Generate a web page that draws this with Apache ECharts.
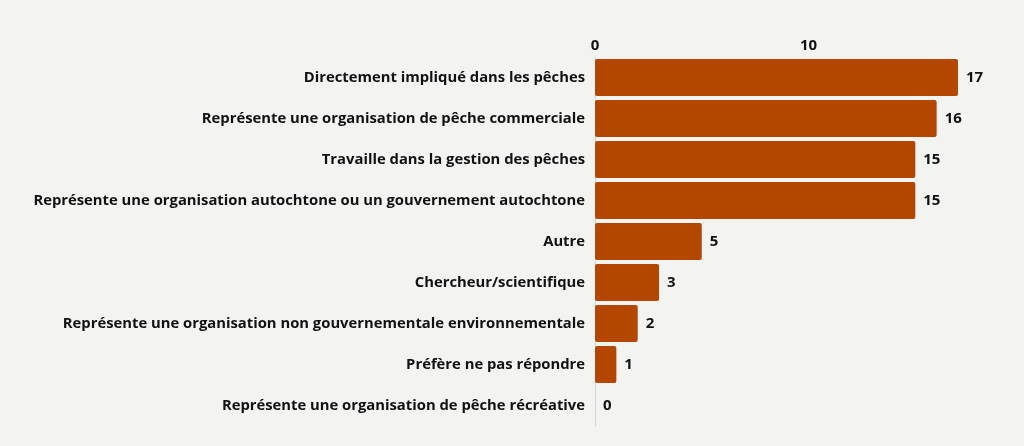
<!DOCTYPE html>
<html>
<head>
<meta charset="utf-8">
<script src="https://cdn.jsdelivr.net/npm/echarts@6/dist/echarts.min.js"></script>
<style>
  html, body { margin: 0; padding: 0; background: #f3f3f2; }
  #chart { width: 1024px; height: 446px; }
</style>
</head>
<body>
<div id="chart"></div>
<script>
// categories from top to bottom
const categories = [
  "Directement impliqué dans les pêches",
  "Représente une organisation de pêche commerciale",
  "Travaille dans la gestion des pêches",
  "Représente une organisation autochtone ou un gouvernement autochtone",
  "Autre",
  "Chercheur/scientifique",
  "Représente une organisation non gouvernementale environnementale",
  "Préfère ne pas répondre",
  "Représente une organisation de pêche récréative"
];
const counts = [17, 16, 15, 15, 5, 3, 2, 1, 0];
const tickValues = [0, 10];

const font = 'Open Sans';

const chart = echarts.init(document.getElementById('chart'));
chart.setOption({
  backgroundColor: '#f3f3f2',
  animation: false,
  grid: { left: 595, right: 66, top: 57, bottom: 20, containLabel: false },
  xAxis: {
    type: 'value',
    position: 'top',
    min: 0,
    max: 17,
    interval: 10,
    axisLine: { show: false },
    axisTick: { show: false },
    splitLine: { show: false },
    axisLabel: {
      margin: 4,
      color: '#111',
      fontFamily: font,
      fontWeight: 'bold',
      fontSize: 15,
      formatter: v => tickValues.includes(v) ? String(v) : ''
    }
  },
  yAxis: {
    type: 'category',
    inverse: true,
    data: categories,
    axisLine: { show: true, lineStyle: { color: '#d4d4d4', width: 1 } },
    axisTick: { show: false },
    axisLabel: {
      margin: 10,
      color: '#111',
      fontFamily: font,
      fontWeight: 'bold',
      fontSize: 14.8
    }
  },
  series: [{
    type: 'bar',
    data: counts,
    barCategoryGap: '10%',
    itemStyle: { color: '#b34700', borderRadius: 2 },
    label: {
      show: true,
      position: 'right',
      distance: 8,
      color: '#111',
      fontFamily: font,
      fontWeight: 'bold',
      fontSize: 15
    }
  }]
});
</script>
</body>
</html>
